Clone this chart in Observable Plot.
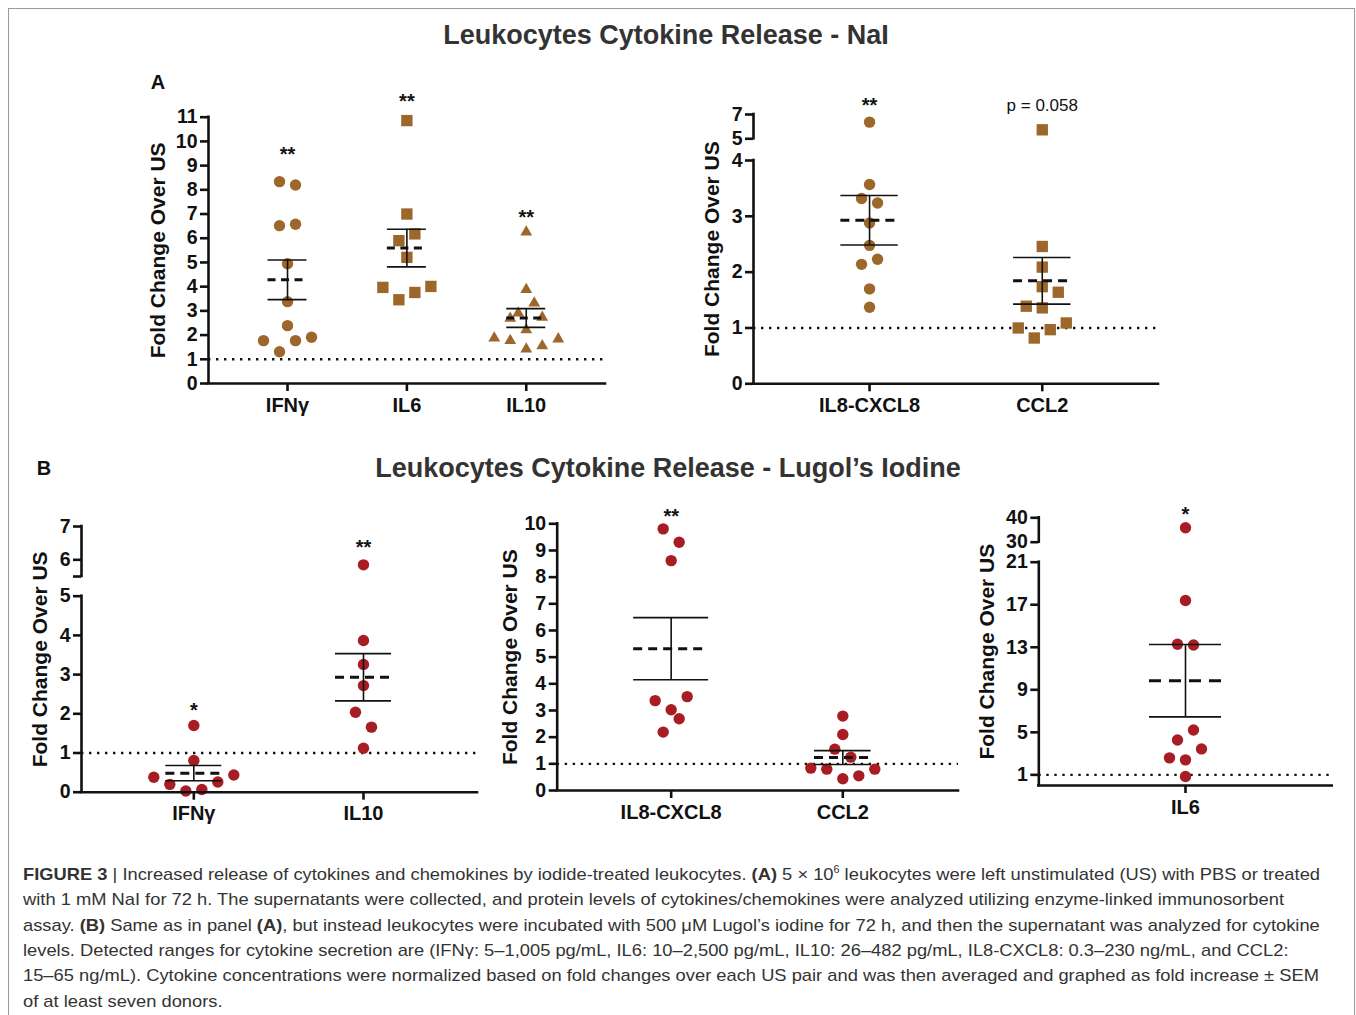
<!DOCTYPE html>
<html><head><meta charset="utf-8">
<script src="https://cdn.jsdelivr.net/npm/d3@7"></script>
<script src="https://cdn.jsdelivr.net/npm/@observablehq/plot@0.6"></script>
<style>
body{margin:0;background:#fff;}
#root{position:relative;width:1356px;height:1015px;overflow:hidden;font-family:"Liberation Sans",Arial,Helvetica,sans-serif;background:#fff;}
.box{position:absolute;left:8px;top:8px;width:1345px;height:1100px;border:1px solid #9a9a9a;}
.t{position:absolute;white-space:nowrap;transform:translate(-50%,-50%);}
.title{font-weight:bold;font-size:27px;color:#333;}
.letter{font-weight:bold;font-size:20px;color:#111;}
.cap{position:absolute;left:23px;white-space:nowrap;font-size:17px;line-height:25px;color:#333;transform-origin:0 50%;}
.cap sup{font-size:10px;line-height:0;vertical-align:7px;}
.panel{position:absolute;}
</style></head>
<body><div id="root"><div class="box"></div></div>
<script>
// ---------------- DATA ----------------
// Panel A (NaI) – left chart
const naiLeftCats = ["IFNγ", "IL6", "IL10"];
const naiIFNg    = [8.34, 8.20, 6.52, 6.58, 4.95, 3.38, 2.39, 1.77, 1.77, 1.91, 1.31];
const naiIFNgCol = [-1, 1, -1, 1, 0, 0, 0, -3, 1, 3, -1];
const naiIL6     = [10.86, 7.00, 6.18, 5.90, 5.21, 3.97, 4.01, 3.76, 3.46];
const naiIL6Col  = [0, 0, 1, -1, 0, -3, 3, 1, -1];
const naiIL10    = [6.25, 3.88, 3.32, 2.91, 2.69, 2.73, 2.22, 1.88, 1.77, 1.84, 1.56, 1.42];
const naiIL10Col = [0, 0, 1, -1, -2, 2, 0, -4, -2, 4, 2, 0];
const naiLeftSig  = ["**", "**", "**"];
const naiLeftSigY = [9.46, 11.65, 6.85];
const naiLeftTicks = [0, 1, 2, 3, 4, 5, 6, 7, 8, 9, 10, 11];

// Panel A (NaI) – right chart (broken axis 0–4 / 5–7)
const naiRightCats = ["IL8-CXCL8", "CCL2"];
const naiIL8     = [6.37, 3.57, 3.32, 3.24, 2.88, 2.48, 2.14, 2.23, 1.70, 1.37];
const naiIL8Col  = [0, 0, -1, 1, 0, 0, -1, 1, 0, 0];
const naiCCL2    = [5.74, 2.46, 2.09, 1.74, 1.64, 1.39, 1.36, 1.00, 1.09, 0.97, 0.82];
const naiCCL2Col = [0, 0, 0, 0, 2, -2, 0, -3, 3, 1, -1];
const naiRightSig  = ["**", "p = 0.058"];
const naiRightSigY = [7.74, 7.76];
const naiRightTicksLow  = [0, 1, 2, 3, 4];
const naiRightTicksHigh = [5, 7];

// Panel B (Lugol's iodine) – left chart (broken axis 0–5 / 5.5–7)
const lugLeftCats = ["IFNγ", "IL10"];
const lugIFNg    = [1.70, 0.81, 0.38, 0.20, 0.03, 0.07, 0.26, 0.44];
const lugIFNgCol = [0, 0, -5, -3, -1, 1, 3, 5];
const lugIL10    = [5.85, 3.87, 3.26, 2.72, 2.04, 1.66, 1.12];
const lugIL10Col = [0, 0, 0, 0, -1, 1, 0];
const lugLeftSig  = ["*", "**"];
const lugLeftSigY = [2.07, 6.36];
const lugLeftTicksLow  = [0, 1, 2, 3, 4, 5];
const lugLeftTicksHigh = [5.5, 6, 7];
const lugLeftTickLabels = {0: "0", 1: "1", 2: "2", 3: "3", 4: "4", 5: "5", 5.5: "", 6: "6", 7: "7"};

// Panel B – middle chart
const lugMidCats = ["IL8-CXCL8", "CCL2"];
const lugIL8     = [9.81, 9.31, 8.62, 3.37, 3.52, 3.03, 2.69, 2.19];
const lugIL8Col  = [-1, 1, 0, -2, 2, 0, 1, -1];
const lugCCL2    = [2.79, 2.10, 1.55, 1.25, 0.84, 0.80, 0.80, 0.55, 0.44];
const lugCCL2Col = [0, 0, -1, 1, -4, -2, 4, 2, 0];
const lugMidSig  = ["**"];
const lugMidSigY = [10.28];
const lugMidTicks = [0, 1, 2, 3, 4, 5, 6, 7, 8, 9, 10];

// Panel B – right chart (broken axis 0–21 / 30–40)
const lugRightCats = ["IL6"];
const lugIL6     = [35.9, 17.4, 13.28, 13.21, 5.22, 4.28, 3.44, 2.60, 2.41, 0.84];
const lugIL6Col  = [0, 0, -1, 1, 1, -1, 2, -2, 0, 0];
const lugRightSig  = ["*"];
const lugRightSigY = [41.35];
const lugRightTicksLow  = [1, 5, 9, 13, 17, 21];
const lugRightTicksHigh = [30, 40];

const yTitle = "Fold Change Over US";
const titleA = "Leukocytes Cytokine Release - NaI";
const titleB = "Leukocytes Cytokine Release - Lugol’s Iodine";

// ---------------- STYLE ----------------
const BROWN = "#9d672b";
const RED = "#a81d23";
const FONT = "Liberation Sans, Arial, Helvetica, sans-serif";
const AXW = 2.6;
const SLOT = 8;
const SYM_R = {circle: 5.7, square: 6.4, triangle: 4.4};

const root = document.getElementById("root");

function makePanel(cfg) {
  const [fl, fr, ft, fb] = cfg.frame;
  const mL = fl - cfg.left, mR = cfg.left + cfg.width - fr;
  const mT = ft - cfg.top, mB = cfg.top + cfg.height - fb;
  const pxPerUnit = (fr - fl) / (cfg.xDomain[1] - cfg.xDomain[0]);
  const slot = SLOT / pxPerUnit;
  const x0 = cfg.xDomain[0], x1 = cfg.xDomain[1];
  const yMin = cfg.segments[0][0];

  let yOpt;
  if (cfg.yPix) {
    // broken axis: piecewise map of value -> pixel distance above the x axis
    const brk = d3.scaleLinear().domain(cfg.segments.flat()).range(cfg.yPix.map(p => cfg.yPix[0] - p));
    yOpt = {transform: v => brk(v), domain: [0, cfg.yPix[0] - cfg.yPix[cfg.yPix.length - 1]]};
  } else {
    yOpt = {domain: cfg.segments[0]};
  }

  const marks = [];
  marks.push(Plot.ruleY([1], {x1: x0, x2: x1, stroke: "#111", strokeWidth: 2.4, strokeDasharray: "2.4,5.6"}));
  cfg.groups.forEach((g, i) => {
    const pts = g.values.map((v, j) => ({x: i + g.cols[j] * slot, y: v}));
    marks.push(Plot.dot(pts, {x: "x", y: "y", symbol: g.symbol, r: SYM_R[g.symbol], fill: cfg.color, stroke: "none"}));
  });
  const stats = cfg.groups.map((g, i) => {
    const m = d3.mean(g.values);
    const se = d3.deviation(g.values) / Math.sqrt(g.values.length);
    const h = cfg.capPx[i] / pxPerUnit;
    return {i, m, lo: m - se, hi: m + se, xa: i - h, xb: i + h};
  });
  marks.push(Plot.ruleX(stats, {x: "i", y1: "lo", y2: "hi", stroke: "#111", strokeWidth: 1.6}));
  marks.push(Plot.ruleY(stats, {y: "hi", x1: "xa", x2: "xb", stroke: "#111", strokeWidth: 1.6}));
  marks.push(Plot.ruleY(stats, {y: "lo", x1: "xa", x2: "xb", stroke: "#111", strokeWidth: 1.6}));
  marks.push(Plot.ruleY(stats, {y: "m", x1: "xa", x2: "xb", stroke: "#111", strokeWidth: 3, strokeDasharray: cfg.dash || "9,6"}));
  cfg.segments.forEach(s => marks.push(Plot.ruleX([x0], {y1: s[0], y2: s[1], stroke: "#111", strokeWidth: AXW, strokeLinecap: "square"})));
  marks.push(Plot.ruleY([yMin], {x1: x0, x2: x1, stroke: "#111", strokeWidth: AXW, strokeLinecap: "square"}));
  cfg.ticks.forEach(t => marks.push(Plot.axisY(t, {
    tickSize: 8, tickPadding: 3, strokeWidth: AXW, stroke: "#111", fill: "#111",
    fontSize: 19.5, fontWeight: "bold", label: null,
    tickFormat: cfg.tickFormat || (d => String(d))
  })));
  marks.push(Plot.axisX(cfg.cats.map((c, i) => i), {
    tickSize: 8, tickPadding: 6, strokeWidth: AXW, stroke: "#111", fill: "#111",
    fontSize: 20, fontWeight: "bold", label: null, tickFormat: i => cfg.cats[i]
  }));
  const sigData = cfg.sig.map((s, i) => ({s, i, y: cfg.sigY[i]}));
  marks.push(Plot.text(sigData.filter(d => d.s.startsWith("*")),
    {x: "i", y: "y", text: "s", fontSize: 20, fontWeight: "bold", fill: "#111"}));
  marks.push(Plot.text(sigData.filter(d => !d.s.startsWith("*")),
    {x: "i", y: "y", text: "s", fontSize: 17, fill: "#111"}));
  marks.push(Plot.text([yTitle], {frameAnchor: "left", rotate: -90, textAnchor: "middle", lineAnchor: "top", dx: cfg.labelDx,
    fontSize: 21, fontWeight: "bold", fill: "#111"}));

  const svg = Plot.plot({
    width: cfg.width, height: cfg.height,
    marginLeft: mL, marginRight: mR, marginTop: mT, marginBottom: mB,
    x: {domain: cfg.xDomain},
    y: yOpt,
    style: {fontFamily: FONT, background: "transparent", overflow: "visible"},
    marks
  });
  const wrap = document.createElement("div");
  wrap.className = "panel";
  wrap.style.left = cfg.left + "px";
  wrap.style.top = cfg.top + "px";
  wrap.appendChild(svg);
  root.appendChild(wrap);
}

makePanel({
  left: 110, top: 80, width: 510, height: 350, frame: [208, 605, 116.7, 383],
  xDomain: [-0.662, 2.664], segments: [[0, 11]], ticks: [naiLeftTicks],
  cats: naiLeftCats, color: BROWN, capPx: [19.5, 19.5, 19.5], labelDx: -58.7, dash: "8,5.5",
  groups: [
    {values: naiIFNg, cols: naiIFNgCol, symbol: "circle"},
    {values: naiIL6, cols: naiIL6Col, symbol: "square"},
    {values: naiIL10, cols: naiIL10Col, symbol: "triangle"}
  ],
  sig: naiLeftSig, sigY: naiLeftSigY
});

makePanel({
  left: 680, top: 80, width: 500, height: 350, frame: [753, 1158, 114, 383.3],
  xDomain: [-0.672, 1.673], segments: [[0, 4], [5, 7]], yPix: [383.3, 160, 138.3, 114],
  ticks: [naiRightTicksLow, naiRightTicksHigh],
  cats: naiRightCats, color: BROWN, capPx: [28.7, 28.7], labelDx: -49.7,
  groups: [
    {values: naiIL8, cols: naiIL8Col, symbol: "circle"},
    {values: naiCCL2, cols: naiCCL2Col, symbol: "square"}
  ],
  sig: naiRightSig, sigY: naiRightSigY
});

makePanel({
  left: 10, top: 490, width: 480, height: 345, frame: [81, 477, 526, 791.7],
  xDomain: [-0.662, 1.672], segments: [[0, 5], [5.5, 7]], yPix: [791.7, 595.7, 576, 526],
  ticks: [lugLeftTicksLow, lugLeftTicksHigh], tickFormat: d => lugLeftTickLabels[d],
  cats: lugLeftCats, color: RED, capPx: [28, 28], labelDx: -49.3,
  groups: [
    {values: lugIFNg, cols: lugIFNgCol, symbol: "circle"},
    {values: lugIL10, cols: lugIL10Col, symbol: "circle"}
  ],
  sig: lugLeftSig, sigY: lugLeftSigY
});

makePanel({
  left: 490, top: 490, width: 472, height: 345, frame: [556.7, 958, 523.3, 790],
  xDomain: [-0.664, 1.674], segments: [[0, 10]], ticks: [lugMidTicks],
  cats: lugMidCats, color: RED, capPx: [37.5, 28.3], labelDx: -55,
  groups: [
    {values: lugIL8, cols: lugIL8Col, symbol: "circle"},
    {values: lugCCL2, cols: lugCCL2Col, symbol: "circle"}
  ],
  sig: lugMidSig, sigY: lugMidSigY
});

makePanel({
  left: 965, top: 490, width: 385, height: 345, frame: [1038.3, 1331.7, 517.3, 785],
  xDomain: [-1, 1], segments: [[0, 21], [30, 40]], yPix: [785, 561.7, 541.7, 517.3],
  ticks: [lugRightTicksLow, lugRightTicksHigh],
  cats: lugRightCats, color: RED, capPx: [36], labelDx: -60, dash: "12,8",
  groups: [
    {values: lugIL6, cols: lugIL6Col, symbol: "circle"}
  ],
  sig: lugRightSig, sigY: lugRightSigY
});

// ---------------- TEXT ----------------
function addText(cls, html, x, y) {
  const d = document.createElement("div");
  d.className = "t " + cls;
  d.innerHTML = html;
  d.style.left = x + "px"; d.style.top = y + "px";
  root.appendChild(d);
  return d;
}
addText("title", titleA, 666, 35);
addText("title", titleB, 668, 468);
addText("letter", "A", 158, 82);
addText("letter", "B", 44, 468);

const captionLines = [
  "<b>FIGURE 3</b> | Increased release of cytokines and chemokines by iodide-treated leukocytes. <b>(A)</b> 5 × 10<sup>6</sup> leukocytes were left unstimulated (US) with PBS or treated",
  "with 1 mM NaI for 72 h. The supernatants were collected, and protein levels of cytokines/chemokines were analyzed utilizing enzyme-linked immunosorbent",
  "assay. <b>(B)</b> Same as in panel <b>(A)</b>, but instead leukocytes were incubated with 500 μM Lugol’s iodine for 72 h, and then the supernatant was analyzed for cytokine",
  "levels. Detected ranges for cytokine secretion are (IFNγ: 5–1,005 pg/mL, IL6: 10–2,500 pg/mL, IL10: 26–482 pg/mL, IL8-CXCL8: 0.3–230 ng/mL, and CCL2:",
  "15–65 ng/mL). Cytokine concentrations were normalized based on fold changes over each US pair and was then averaged and graphed as fold increase ± SEM",
  "of at least seven donors."
];
const capEls = captionLines.map((h, i) => {
  const d = document.createElement("div");
  d.className = "cap";
  d.innerHTML = h;
  d.style.top = (862 + i * 25.3) + "px";
  root.appendChild(d);
  return d;
});
const sx = 1297 / capEls[0].getBoundingClientRect().width;
capEls.forEach(d => d.style.transform = `scaleX(${sx})`);
</script>
</body></html>
